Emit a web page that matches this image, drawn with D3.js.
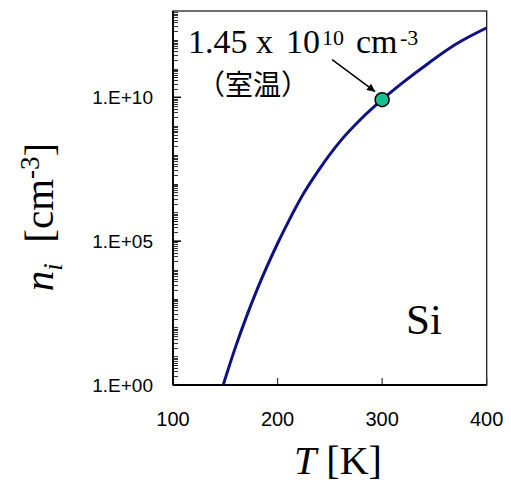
<!DOCTYPE html>
<html>
<head>
<meta charset="utf-8">
<script src="https://cdn.jsdelivr.net/npm/d3@7"></script>
<style>
  body { margin: 0; background: #fff; }
  svg { display: block; }
</style>
</head>
<body>
<svg id="chart" width="511" height="484"></svg>
<script>
// temperature [K] and intrinsic carrier density [cm^-3]
const temps = [148, 160, 170, 180, 190, 200, 210, 225, 240, 260, 280, 300, 320, 345, 370, 400];
const niValues = [1, 22, 224, 1.9e3, 1.35e4, 8.3e4, 4.5e5, 4.6e6, 3.2e7, 3.0e8, 1.8e9, 8.3e9, 3.3e10, 1.6e11, 6.8e11, 2.6e12];

// room temperature point
const roomT = [300];
const roomNi = [8.3e9];

const xTicks = [100, 200, 300, 400];
const yTicks = [1, 1e5, 1e10];
const yTickLabels = ["1.E+00", "1.E+05", "1.E+10"];

var margin = {top: 11, left: 173},
    width = 313.7,
    height = 374;

var svg = d3.select("#chart");
var g = svg.append("g")
  .attr("transform", "translate(" + margin.left + "," + margin.top + ")");

var x = d3.scaleLinear().domain([100, 400]).range([0, width]);
var y = d3.scaleLog().domain([1, 1e13]).range([height, 0]);

// clip for the curve
var defs = svg.append("defs");
defs.append("clipPath").attr("id", "clip")
  .append("rect").attr("width", width).attr("height", height);

defs.append("marker")
  .attr("id", "arrow")
  .attr("viewBox", "0 0 10 10")
  .attr("refX", 10).attr("refY", 5)
  .attr("markerWidth", 10).attr("markerHeight", 8)
  .attr("markerUnits", "userSpaceOnUse")
  .attr("orient", "auto")
  .append("path").attr("d", "M0,0 L10,5 L0,10 Z").attr("fill", "#000");

// plot frame
g.append("rect")
  .attr("width", width).attr("height", height)
  .attr("fill", "none").attr("stroke", "#222").attr("stroke-width", 1.3);

// minor y ticks (1..9 x 10^k), inside
var minor = [];
for (var k = 0; k < 13; k++) {
  for (var m = 1; m <= 9; m++) minor.push(m * Math.pow(10, k));
}
g.selectAll(".ymin").data(minor).enter().append("line")
  .attr("x1", 0).attr("x2", 5)
  .attr("y1", d => Math.round(y(d)) + 0.5).attr("y2", d => Math.round(y(d)) + 0.5)
  .attr("stroke", "#333").attr("stroke-width", 1);

// major y ticks + labels
g.selectAll(".ymaj").data(yTicks).enter().append("line")
  .attr("x1", 0).attr("x2", 8)
  .attr("y1", d => y(d)).attr("y2", d => y(d))
  .attr("stroke", "#000").attr("stroke-width", 1.5);

g.selectAll(".ylab").data(yTicks).enter().append("text")
  .attr("x", -20).attr("y", d => y(d) + 7)
  .attr("text-anchor", "end")
  .attr("font-family", "Liberation Sans, Arial, sans-serif")
  .attr("font-size", 19)
  .text((d, i) => yTickLabels[i]);

// x ticks (inside) + labels
g.selectAll(".xt").data(xTicks).enter().append("line")
  .attr("x1", d => x(d)).attr("x2", d => x(d))
  .attr("y1", height).attr("y2", height - 7)
  .attr("stroke", "#333").attr("stroke-width", 1.2);

g.selectAll(".xlab").data(xTicks).enter().append("text")
  .attr("x", d => x(d)).attr("y", height + 41)
  .attr("text-anchor", "middle")
  .attr("font-family", "Liberation Sans, Arial, sans-serif")
  .attr("font-size", 20)
  .text(d => d);

// axis lines, a bit heavier on left/bottom
g.append("line").attr("x1", 0).attr("x2", 0).attr("y1", 0).attr("y2", height)
  .attr("stroke", "#000").attr("stroke-width", 1.8);
g.append("line").attr("x1", 0).attr("x2", width).attr("y1", height).attr("y2", height)
  .attr("stroke", "#000").attr("stroke-width", 1.8);

// the curve
var line = d3.line()
  .x((d, i) => x(temps[i]))
  .y(d => y(d))
  .curve(d3.curveMonotoneX);

g.append("path")
  .datum(niValues)
  .attr("clip-path", "url(#clip)")
  .attr("fill", "none")
  .attr("stroke", "#101085")
  .attr("stroke-width", 3)
  .attr("d", line);

// room temperature marker + arrow
var cx = x(roomT[0]), cy = y(roomNi[0]);
g.append("line")
  .attr("x1", cx - 50).attr("y1", cy - 40)
  .attr("x2", cx - 7).attr("y2", cy - 8)
  .attr("stroke", "#000").attr("stroke-width", 1.5)
  .attr("marker-end", "url(#arrow)");

g.selectAll(".pt").data(roomNi).enter().append("circle")
  .attr("cx", (d, i) => x(roomT[i])).attr("cy", d => y(d))
  .attr("r", 7)
  .attr("fill", "#14c08c").attr("stroke", "#000").attr("stroke-width", 1.5);

// annotation text
var serif = "Liberation Serif, Times New Roman, serif";
var ann = svg.append("text")
  .attr("y", 53)
  .attr("font-family", serif).attr("font-size", 34);
ann.append("tspan").attr("x", 188).text("1.45");
ann.append("tspan").attr("x", 256).text("x");
ann.append("tspan").attr("x", 286).text("10");
ann.append("tspan").attr("x", 322).attr("font-size", 22).attr("dy", -8).text("10");
ann.append("tspan").attr("x", 356).attr("dy", 8).text("cm");
ann.append("tspan").attr("x", 400).attr("font-size", 22).attr("dy", -8).text("-3");

svg.append("text")
  .attr("x", 197).attr("y", 95)
  .attr("font-family", "Noto Sans CJK JP, sans-serif")
  .attr("font-size", 28)
  .text("（室温）");

svg.append("text")
  .attr("x", 406).attr("y", 334)
  .attr("font-family", serif).attr("font-size", 43)
  .text("Si");

// x axis title
var xt = svg.append("text")
  .attr("x", 338).attr("y", 474)
  .attr("text-anchor", "middle")
  .attr("font-family", serif).attr("font-size", 40);
xt.append("tspan").attr("font-style", "italic").text("T");
xt.append("tspan").text("\u00a0[K]");

// y axis title
var yt = svg.append("text")
  .attr("transform", "translate(53,217) rotate(-90)")
  .attr("text-anchor", "middle")
  .attr("font-family", serif).attr("font-size", 41);
yt.append("tspan").attr("font-style", "italic").text("n");
yt.append("tspan").attr("font-style", "italic").attr("font-size", 27).attr("dy", 9).text("i");
yt.append("tspan").attr("dy", -9).text("\u00a0\u00a0[cm");
yt.append("tspan").attr("font-size", 27).attr("dy", -14).text("-3");
yt.append("tspan").attr("dy", 14).text("]");
</script>
</body>
</html>
